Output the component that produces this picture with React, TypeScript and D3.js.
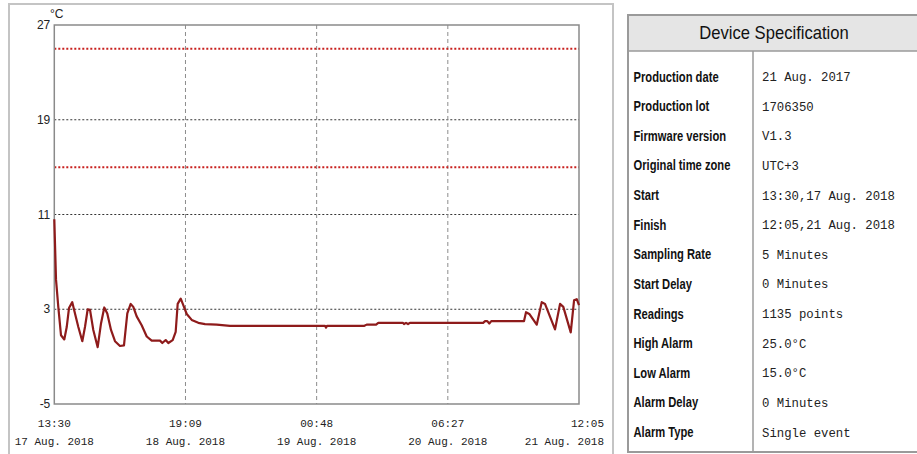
import React, { useEffect, useRef } from "react";
import * as d3 from "d3";

// hours since start (13:30, 17 Aug. 2018) and temperature in °C
const hours = [
  0, 0.31, 0.72, 1.21, 1.8, 2.24, 2.65, 3.24, 3.73, 4.33, 5.05, 5.53, 6.02, 6.44, 7.03, 7.82,
  8.42, 9.01, 9.55, 10.22, 10.94, 11.84, 12.56, 13.16, 13.77, 14.24, 14.85, 15.75, 16.66, 17.56,
  19.06, 19.47, 20.08, 20.55, 21.34, 21.88, 22.24, 22.79, 23.25, 23.87, 24.77, 25.96, 27.17,
  29.27, 31.67, 48.8, 48.98, 49.16, 55.9, 56.31, 58.0, 58.4, 62.86, 63.04, 63.4, 63.76, 64.1,
  77.3, 77.65, 78.05, 78.41, 78.77, 84.67, 85.03, 85.62, 86.96, 87.86, 88.45, 90.26, 91.16,
  91.75, 93.09, 93.69, 94.17, 94.58,
];
const temps = [
  10.6, 5.5, 3.2, 0.8, 0.45, 1.5, 3.1, 3.6, 2.65, 1.5, 0.3, 1.5, 3.0, 2.95, 1.25, -0.2,
  1.8, 3.15, 2.65, 1.25, 0.3, -0.1, -0.05, 2.65, 3.45, 3.2, 2.4, 1.65, 0.7, 0.35,
  0.35, 0.15, 0.4, 0.15, 0.4, 1.1, 3.45, 3.9, 3.35, 2.6, 2.1, 1.85, 1.75,
  1.7, 1.6, 1.6, 1.45, 1.6, 1.6, 1.7, 1.7, 1.85, 1.85, 1.75, 1.85, 1.75, 1.85,
  1.85, 2.0, 2.0, 1.8, 2.0, 2.0, 2.75, 2.6, 1.7, 3.6, 3.45, 1.3, 3.45,
  3.2, 1.05, 3.75, 3.85, 3.35,
];
const totalHours = 94.58;
const timeLabels = ["13:30", "19:09", "00:48", "06:27", "12:05"];
const dateLabels = ["17 Aug. 2018", "18 Aug. 2018", "19 Aug. 2018", "20 Aug. 2018", "21 Aug. 2018"];
const yTicks = [27, 19, 11, 3, -5];
const alarmLevels = [25, 15];

const specLabels = [
  "Production date", "Production lot", "Firmware version", "Original time zone", "Start",
  "Finish", "Sampling Rate", "Start Delay", "Readings", "High Alarm", "Low Alarm",
  "Alarm Delay", "Alarm Type",
];
const specValues = [
  "21 Aug. 2017", "1706350", "V1.3", "UTC+3", "13:30,17 Aug. 2018", "12:05,21 Aug. 2018",
  "5 Minutes", "0 Minutes", "1135 points", "25.0°C", "15.0°C", "0 Minutes", "Single event",
];

const W = 917;
const H = 454;
const mono = "'Liberation Mono', 'Courier New', monospace";
const sans = "'Liberation Sans', Arial, sans-serif";

export default function App() {
  const ref = useRef<SVGSVGElement>(null);

  useEffect(() => {
    const svg = d3.select(ref.current);
    svg.selectAll("*").remove();

    const left = 54.3, right = 579, top = 25, bottom = 404;
    const x = d3.scaleLinear().domain([0, totalHours]).range([left, right]);
    const y = d3.scaleLinear().domain([-5, 27]).range([bottom, top]);

    svg.append("rect").attr("width", W).attr("height", H).attr("fill", "#fff");

    // left panel frame
    svg.append("rect")
      .attr("x", 9).attr("y", 4).attr("width", 604).attr("height", 460)
      .attr("fill", "none").attr("stroke", "#c4c4c4").attr("stroke-width", 2);

    // horizontal grid lines
    svg.append("g").selectAll("line")
      .data(yTicks.slice(1, -1))
      .join("line")
      .attr("x1", left).attr("x2", right)
      .attr("y1", d => y(d)).attr("y2", d => y(d))
      .attr("stroke", "#333").attr("stroke-width", 1).attr("stroke-dasharray", "2,2");

    // vertical grid lines
    const xTickPos = timeLabels.map((_, i) => x((totalHours * i) / (timeLabels.length - 1)));
    svg.append("g").selectAll("line")
      .data(xTickPos.slice(1, -1))
      .join("line")
      .attr("x1", d => d).attr("x2", d => d)
      .attr("y1", top).attr("y2", bottom)
      .attr("stroke", "#8c8c8c").attr("stroke-width", 1).attr("stroke-dasharray", "4,3");

    // alarm lines
    svg.append("g").selectAll("line")
      .data(alarmLevels)
      .join("line")
      .attr("x1", left).attr("x2", right)
      .attr("y1", d => y(d)).attr("y2", d => y(d))
      .attr("stroke", "#c8201e").attr("stroke-width", 2).attr("stroke-dasharray", "2,2");

    // plot frame
    svg.append("rect")
      .attr("x", left).attr("y", top).attr("width", right - left).attr("height", bottom - top)
      .attr("fill", "none").attr("stroke", "#8a8a8a").attr("stroke-width", 1.5);

    // temperature line
    const pts = hours.map((h, i) => [h, temps[i]] as [number, number]);
    const line = d3.line<[number, number]>().x(d => x(d[0])).y(d => y(d[1]));
    svg.append("path")
      .datum(pts)
      .attr("d", line)
      .attr("fill", "none").attr("stroke", "#8e1b1b").attr("stroke-width", 2.2)
      .attr("stroke-linejoin", "round");

    // y tick labels
    svg.append("g").selectAll("text")
      .data(yTicks)
      .join("text")
      .attr("x", left - 4).attr("y", d => y(d) + 4)
      .attr("text-anchor", "end")
      .attr("font-family", sans).attr("font-size", 12)
      .attr("fill", "#222")
      .text(d => d);
    svg.append("text")
      .attr("x", 50).attr("y", 18)
      .attr("font-family", sans).attr("font-size", 12)
      .attr("fill", "#222")
      .text("°C");

    // x tick labels
    const anchor = (i: number) => (i === timeLabels.length - 1 ? "end" : "middle");
    const lx = (i: number) => (i === timeLabels.length - 1 ? 604 : xTickPos[i]);
    svg.append("g").selectAll("text")
      .data(timeLabels)
      .join("text")
      .attr("x", (_, i) => lx(i)).attr("y", 427)
      .attr("text-anchor", (_, i) => anchor(i))
      .attr("font-family", mono).attr("font-size", 11).attr("fill", "#222")
      .text(d => d);
    svg.append("g").selectAll("text")
      .data(dateLabels)
      .join("text")
      .attr("x", (_, i) => lx(i)).attr("y", 445)
      .attr("text-anchor", (_, i) => anchor(i))
      .attr("font-family", mono).attr("font-size", 11).attr("fill", "#222")
      .text(d => d);

    // specification table
    const tx = 628, ty = 15, headerH = 36, divX = 753;
    svg.append("rect")
      .attr("x", tx).attr("y", ty).attr("width", 300).attr("height", headerH)
      .attr("fill", "#e5e5e5");
    svg.append("rect")
      .attr("x", tx).attr("y", ty).attr("width", 300).attr("height", 437)
      .attr("fill", "none").attr("stroke", "#9a9a9a").attr("stroke-width", 2);
    svg.append("line")
      .attr("x1", tx).attr("x2", W).attr("y1", ty + headerH).attr("y2", ty + headerH)
      .attr("stroke", "#9a9a9a").attr("stroke-width", 1.5);
    svg.append("line")
      .attr("x1", divX).attr("x2", divX).attr("y1", ty + headerH).attr("y2", 452)
      .attr("stroke", "#9a9a9a").attr("stroke-width", 1.5);
    svg.append("text")
      .attr("transform", "translate(774,38.5) scale(0.95,1)")
      .attr("text-anchor", "middle")
      .attr("font-family", sans).attr("font-size", 17.5).attr("fill", "#111")
      .text("Device Specification");

    const row = d3.scalePoint<number>().domain(d3.range(specLabels.length)).range([76.5, 432]);
    svg.append("g").selectAll("text")
      .data(specLabels)
      .join("text")
      .attr("transform", (_, i) => `translate(633.5,${(row(i) ?? 0) + 5}) scale(0.8,1)`)
      .attr("font-family", sans).attr("font-weight", "bold").attr("font-size", 14)
      .attr("fill", "#111")
      .text(d => d);
    svg.append("g").selectAll("text")
      .data(specValues)
      .join("text")
      .attr("x", 762).attr("y", (_, i) => (row(i) ?? 0) + 4.5)
      .attr("font-family", mono).attr("font-size", 12.3).attr("fill", "#222")
      .text(d => d);
  }, []);

  return (
    <svg
      ref={ref}
      width={W}
      height={H}
      style={{ position: "absolute", left: 0, top: 0, display: "block" }}
    />
  );
}
